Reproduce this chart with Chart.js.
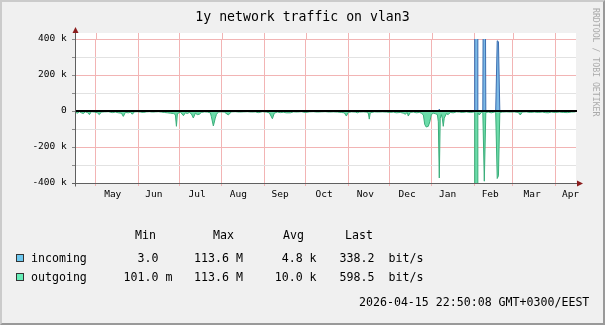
<!DOCTYPE html>
<html>
<head>
<meta charset="utf-8">
<script src="https://cdn.jsdelivr.net/npm/chart.js@4.4.1/dist/chart.umd.min.js"></script>
<style>
  html, body { margin: 0; padding: 0; background: #f0f0f0; }
  #frame { position: relative; width: 605px; height: 325px; background: #f0f0f0; overflow: hidden;
           font-family: 'DejaVu Sans Mono', monospace; color: #000; }
  #edge { position: absolute; left: 0; top: 0; width: 605px; height: 325px; box-sizing: border-box;
          border-style: solid; border-width: 2px; border-color: #cbcbcb #999 #999 #cbcbcb; pointer-events: none; }
  #chart { position: absolute; left: 0; top: 0; }
  .t { position: absolute; white-space: pre; line-height: 1; transform: translateY(-50%); }
  .lg { font-size: 11.6px; }
  .sw { position: absolute; width: 8px; height: 8px; box-sizing: border-box; border: 1px solid #333; }
  #title { left: 0; width: 605px; text-align: center; font-size: 13.2px; top: 17px; }
  #mark { position: absolute; left: 592px; top: 8px; font-size: 8.2px; color: #aaa;
          writing-mode: vertical-rl; white-space: pre; line-height: 1; }
</style>
</head>
<body>
<div id="frame">
  <canvas id="chart" width="605" height="325"></canvas>
  <div class="t" id="title">1y network traffic on vlan3</div>
  <div id="mark">RRDTOOL / TOBI OETIKER</div>

  <div class="t lg" style="left:135px; top:236px">Min</div>
  <div class="t lg" style="left:213px; top:236px">Max</div>
  <div class="t lg" style="left:283px; top:236px">Avg</div>
  <div class="t lg" style="left:345px; top:236px">Last</div>

  <div class="sw" style="left:16px; top:254px; background:#6cc8f0"></div>
  <div class="t lg" style="left:31px; top:258.5px">incoming</div>
  <div class="t lg" style="left:123.5px; top:258.5px">  3.0  </div>
  <div class="t lg" style="left:194px; top:258.5px">113.6 M</div>
  <div class="t lg" style="left:274.7px; top:258.5px"> 4.8 k</div>
  <div class="t lg" style="left:339.5px; top:258.5px">338.2</div>
  <div class="t lg" style="left:388.5px; top:258.5px">bit/s</div>

  <div class="sw" style="left:16px; top:273px; background:#66eeb8"></div>
  <div class="t lg" style="left:31px; top:277.5px">outgoing</div>
  <div class="t lg" style="left:123.5px; top:277.5px">101.0 m</div>
  <div class="t lg" style="left:194px; top:277.5px">113.6 M</div>
  <div class="t lg" style="left:274.7px; top:277.5px">10.0 k</div>
  <div class="t lg" style="left:339.5px; top:277.5px">598.5</div>
  <div class="t lg" style="left:388.5px; top:277.5px">bit/s</div>

  <div class="t lg" style="left:359px; top:303px">2026-04-15 22:50:08 GMT+0300/EEST</div>
  <div id="edge"></div>
</div>
<script>
// days since 2025-04-15 23:00, one year window
const monthStarts = [15, 46, 76, 107, 138, 168, 199, 229, 260, 291, 319, 350];
const monthLabels = ['May', 'Jun', 'Jul', 'Aug', 'Sep', 'Oct', 'Nov', 'Dec', 'Jan', 'Feb', 'Mar', 'Apr'];
const monthLabelDays = [27.5, 57.5, 89, 119, 149.5, 181.5, 211.5, 242, 271.5, 302.5, 333, 361];
const yTickValues = [-400000, -300000, -200000, -100000, 0, 100000, 200000, 300000, 400000];

// incoming, kbit/s
const incomingDays = [0, 20, 45, 70, 95, 120, 150, 180, 210, 240, 264.7, 265.4, 266.1,
  291.2, 292.4, 293.5, 297.1, 298.2, 299.3, 306.5, 307.6, 308.5, 309.5, 330, 365];
const incomingKbps = [2, 1, 2, 1, 2, 1, 2, 1, 2, 1, 2, 10, 2,
  1, 113600, 1, 1, 2100, 1, 1, 390, 385, 1, 2, 1];

// outgoing, kbit/s (drawn below zero)
const outgoingDays = [0, 1.7, 3.2, 4.6, 6.1, 7.5, 9.0, 10.5, 11.9, 14.1, 16.3, 17.7, 19.2, 21.4, 24.3,
  27.2, 29.4, 31.6, 33.8, 35.2, 36.7, 38.9, 40.3, 41.8, 43.2, 45.4, 47.6, 49.8, 51.9, 54.2, 56.4,
  58.6, 60.7, 62.9, 65.1, 67.3, 69.5, 71.7, 73.1, 73.9, 74.6, 76.8, 79.0, 80.4, 81.9, 83.3, 84.8,
  86.2, 87.7, 89.1, 90.6, 92.0, 94.2, 96.4, 98.6, 99.3, 100.8, 102.2, 103.0, 104.4, 106.6, 108.8,
  111.7, 113.9, 116.8, 119.7, 122.6, 125.6, 128.5, 131.4, 133.6, 136.5, 139.4, 141.6, 143.8, 145.2,
  147.4, 149.6, 151.8, 153.9, 156.9, 159.1, 162.0, 164.9, 167.8, 170.7, 173.6, 176.5, 179.4, 182.3,
  185.3, 188.2, 191.1, 194.0, 196.2, 197.7, 199.1, 201.3, 204.2, 205.7, 207.1, 210.0, 212.2, 213.7,
  214.4, 215.1, 218.0, 220.9, 223.8, 226.8, 229.7, 231.9, 234.1, 237.0, 239.2, 240.6, 242.1, 242.8,
  244.3, 246.5, 248.7, 250.9, 252.3, 253.8, 254.8, 255.9, 257.4, 258.5, 259.6, 261.0, 262.5, 264.0,
  264.7, 265.4, 266.1, 266.9, 267.6, 268.3, 269.0, 270.5, 271.9, 273.4, 275.6, 277.8, 280.0, 282.1,
  285.1, 288.0, 290.2, 291.2, 292.4, 293.5, 294.5, 296.0, 297.1, 298.2, 299.3, 301.1, 303.3, 305.5,
  306.5, 307.6, 308.5, 309.5, 311.3, 314.2, 317.1, 320.0, 323.0, 324.4, 325.9, 328.8, 331.7, 334.6,
  337.5, 340.4, 342.6, 344.8, 347.0, 349.9, 352.8, 355.8, 358.7, 361.6, 364.6];
const outgoingKbps = [6, 12, 4, 10, 14, 5, 8, 20, 4, 6, 10, 20, 6, 5, 4,
  9, 6, 10, 12, 30, 8, 10, 6, 18, 5, 4, 6, 8, 5, 4, 6,
  5, 4, 6, 8, 10, 12, 14, 20, 85, 15, 6, 26, 10, 14, 8, 16,
  39, 12, 20, 18, 8, 5, 6, 10, 30, 83, 40, 20, 6, 5, 6,
  22, 5, 4, 6, 5, 4, 6, 5, 9, 4, 6, 10, 43, 12,
  6, 9, 7, 10, 10, 5, 6, 4, 8, 5, 4, 6, 5, 4,
  6, 5, 6, 8, 10, 28, 8, 5, 6, 10, 6, 5, 6, 12,
  45, 10, 5, 6, 5, 6, 8, 6, 10, 8, 12, 18, 8, 28,
  8, 6, 10, 8, 12, 22, 75, 89, 85, 60, 20, 12, 15, 20,
  60, 372, 40, 20, 40, 85, 40, 15, 20, 8, 10, 5, 6, 8,
  5, 8, 6, 8, 113600, 10, 22, 8, 6, 390, 8, 6, 10, 6,
  8, 375, 360, 8, 6, 5, 6, 5, 8, 22, 6, 5, 8, 6,
  8, 6, 9, 10, 6, 8, 6, 8, 9, 6, 5];

const FONT = "'DejaVu Sans Mono', monospace";
const MGRID = '#f2b4b4';
const GRID = '#e2e2e2';

const rrdDecor = {
    id: 'rrdDecor',
    beforeDraw(chart) {
        const { ctx, chartArea: a } = chart;
        const x = chart.scales.x;
        ctx.save();
        ctx.fillStyle = '#fff';
        ctx.fillRect(a.left, a.top - 6, a.right - a.left, a.bottom - a.top + 6);
        // month lines carry on into the white margin above the top value
        ctx.strokeStyle = MGRID;
        ctx.lineWidth = 1;
        monthStarts.forEach(d => {
            const px = Math.round(x.getPixelForValue(d)) + 0.5;
            ctx.beginPath();
            ctx.moveTo(px, a.top - 6);
            ctx.lineTo(px, a.top);
            ctx.stroke();
        });
        ctx.restore();
    },
    afterDatasetsDraw(chart) {
        const { ctx, chartArea: a } = chart;
        const y0 = chart.scales.y.getPixelForValue(0);
        ctx.save();
        ctx.strokeStyle = '#000';
        ctx.lineWidth = 2;
        ctx.beginPath();
        ctx.moveTo(a.left, y0);
        ctx.lineTo(a.right + 1, y0);
        ctx.stroke();
        ctx.restore();
    },
    afterDraw(chart) {
        const { ctx, chartArea: a } = chart;
        const ax = a.left + 0.5;
        const by = a.bottom + 0.5;
        ctx.save();
        ctx.strokeStyle = '#606060';
        ctx.lineWidth = 1;
        ctx.beginPath();
        ctx.moveTo(ax, by + 3);
        ctx.lineTo(ax, a.top - 8);
        ctx.moveTo(a.left - 3, by);
        ctx.lineTo(a.right + 2, by);
        ctx.stroke();
        ctx.fillStyle = '#8b1d1d';
        ctx.beginPath();
        ctx.moveTo(ax, a.top - 12);
        ctx.lineTo(ax - 3, a.top - 6);
        ctx.lineTo(ax + 3, a.top - 6);
        ctx.closePath();
        ctx.fill();
        ctx.beginPath();
        ctx.moveTo(a.right + 7, by);
        ctx.lineTo(a.right + 1, by - 3);
        ctx.lineTo(a.right + 1, by + 3);
        ctx.closePath();
        ctx.fill();
        ctx.restore();
    }
};

function series(days, kbps, sign) {
    return days.map((d, i) => ({ x: d, y: sign * kbps[i] * 1000 }));
}

new Chart(document.getElementById('chart'), {
    type: 'line',
    data: {
        datasets: [
            {
                label: 'incoming',
                data: series(incomingDays, incomingKbps, 1),
                borderColor: '#3b6db0',
                backgroundColor: '#7ab9e6',
                borderWidth: 1,
                fill: 'origin',
                pointRadius: 0,
                tension: 0
            },
            {
                label: 'outgoing',
                data: series(outgoingDays, outgoingKbps, -1),
                borderColor: '#3aae7a',
                backgroundColor: '#6cdcaa',
                borderWidth: 1,
                fill: 'origin',
                pointRadius: 0,
                tension: 0
            }
        ]
    },
    options: {
        responsive: false,
        animation: false,
        events: [],
        layout: { padding: { left: 0, top: 39, right: 29, bottom: 122 } },
        plugins: { legend: { display: false }, tooltip: { enabled: false }, title: { display: false } },
        scales: {
            x: {
                type: 'linear',
                position: 'bottom',
                weight: 0,
                min: 0,
                max: 365,
                afterBuildTicks: s => { s.ticks = monthStarts.map(v => ({ value: v })); },
                afterFit: s => { s.height = 0; },
                ticks: { display: false },
                grid: { color: MGRID, tickColor: MGRID, tickLength: 3, lineWidth: 1 },
                border: { display: false }
            },
            x2: {
                type: 'linear',
                position: 'bottom',
                weight: 1,
                min: 0,
                max: 365,
                afterBuildTicks: s => { s.ticks = monthLabelDays.map(v => ({ value: v })); },
                afterFit: s => { s.height = 20; },
                ticks: {
                    autoSkip: false,
                    maxRotation: 0,
                    padding: 5.6,
                    color: '#000',
                    font: { family: FONT, size: 9.5 },
                    callback: (v, i) => monthLabels[i]
                },
                grid: { display: false, drawTicks: false },
                border: { display: false }
            },
            y: {
                type: 'linear',
                position: 'left',
                min: -400000,
                max: 400000,
                afterBuildTicks: s => { s.ticks = yTickValues.map(v => ({ value: v })); },
                afterFit: s => { s.width = 75; },
                ticks: {
                    padding: 5.3,
                    color: '#000',
                    font: { family: FONT, size: 9.5 },
                    callback: v => v === 0 ? '0' : (v % 200000 === 0 ? (v / 1000) + ' k' : '')
                },
                grid: {
                    color: c => (c.tick && c.tick.value % 200000 === 0) ? MGRID : GRID,
                    tickColor: '#8c8c8c',
                    tickLength: 3,
                    lineWidth: 1
                },
                border: { display: false }
            }
        }
    },
    plugins: [rrdDecor]
});
</script>
</body>
</html>
